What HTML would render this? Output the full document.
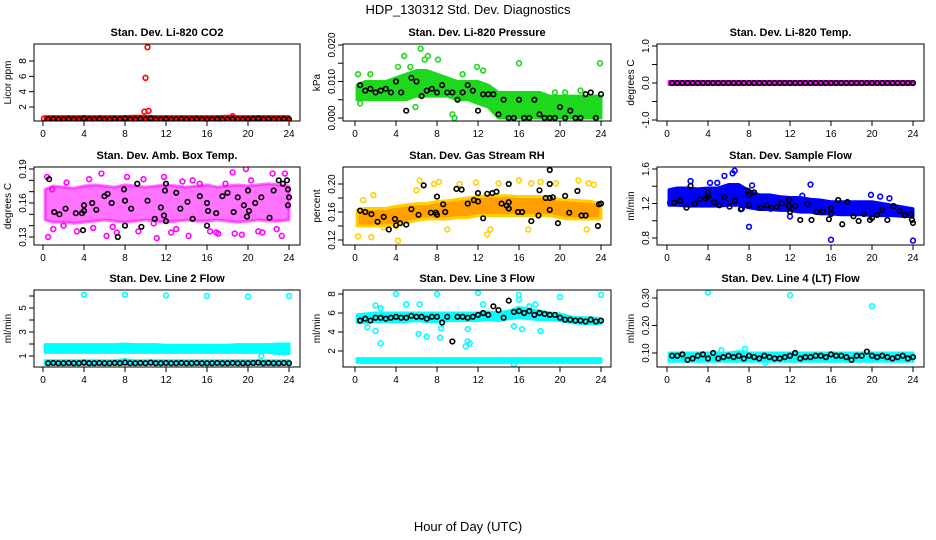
<!DOCTYPE html>
<html><head><meta charset="utf-8"><title>HDP_130312 Std. Dev. Diagnostics</title>
<style>
html,body{margin:0;padding:0;background:#fff;}
svg{display:block;font-family:"Liberation Sans",Arial,sans-serif;}
</style></head>
<body>
<svg id="chart" width="936" height="540" viewBox="0 0 936 540">
<text x="468" y="14" text-anchor="middle" font-size="13">HDP_130312  Std. Dev. Diagnostics</text>
<text x="468" y="531" text-anchor="middle" font-size="13">Hour of Day (UTC)</text>
</svg>
<script>
// ---- data ----
const hours = [0,1,2,3,4,5,6,7,8,9,10,11,12,13,14,15,16,17,18,19,20,21,22,23,24];
const xTicks = [0,4,8,12,16,20,24];
// P1 CO2
const co2Lo = [0.3,0.3,0.3,0.3,0.3,0.3,0.3,0.3,0.3,0.3,0.3,0.3,0.3,0.3,0.3,0.3,0.3,0.3,0.3,0.3,0.3,0.3,0.3,0.3,0.3];
const co2Hi = [0.75,0.75,0.75,0.75,0.75,0.75,0.75,0.75,0.75,0.8,0.8,0.75,0.75,0.75,0.75,0.75,0.75,0.75,0.8,0.75,0.75,0.75,0.75,0.75,0.75];
const co2OutX = [9.9,10.3,10.0,10.2,18.5,0.1];
const co2OutY = [1.4,1.5,5.8,9.8,0.8,0.5];
const co2Blk = [0.4,0.45,0.4,0.4,0.45,0.4,0.4,0.5,0.4,0.4,0.45,0.4,0.4,0.45,0.4,0.5,0.4,0.4,0.45,0.4,0.5,0.4,0.4,0.45,0.4,0.4,0.45,0.4,0.4,0.45,0.4,0.4,0.4,0.45,0.4,0.4,0.45,0.4,0.4,0.4,0.45,0.5,0.4,0.45,0.4,0.4,0.45,0.4];
// P2 Pressure
const prsLo = [0.005,0.005,0.005,0.005,0.005,0.005,0.006,0.006,0.006,0.006,0.005,0.005,0.004,0.003,0.0,0.0,0.0,0.0,0.0,0.0,0.0,0.0,0.0,0.0,0.0];
const prsHi = [0.009,0.010,0.010,0.010,0.011,0.012,0.013,0.013,0.012,0.011,0.010,0.010,0.010,0.009,0.007,0.007,0.007,0.007,0.007,0.006,0.006,0.006,0.006,0.006,0.006];
const prsOutX = [4.8,5.4,6.4,7.1,8.1,11.9,16,23.9,9.5,5.9,19.5,20.5,22,4.2,6.8,9.7,10.5,12.5,0.3,0.5,1.5];
const prsOutY = [0.017,0.014,0.019,0.017,0.016,0.014,0.015,0.015,0.001,0.003,0.007,0.007,0.0075,0.014,0.016,0.0,0.012,0.013,0.012,0.004,0.012];
const prsBlk = [0.009,0.0075,0.008,0.007,0.0075,0.008,0.007,0.010,0.007,0.002,0.011,0.010,0.006,0.0075,0.008,0.007,0.009,0.007,0.007,0.005,0.007,0.009,0.0075,0.002,0.0065,0.0065,0.0065,0.001,0.005,0.0,0.0,0.005,0.0,0.0,0.005,0.001,0.0,0.0,0.0,0.003,0.0,0.002,0.0,0.0,0.0065,0.007,0.0,0.0065];
// P3 Temp
const tmpLo = [-0.04,-0.04,-0.04,-0.04,-0.04,-0.04,-0.04,-0.04,-0.04,-0.04,-0.04,-0.04,-0.04,-0.04,-0.04,-0.04,-0.04,-0.04,-0.04,-0.04,-0.04,-0.04,-0.04,-0.04,-0.04];
const tmpHi = [0.04,0.04,0.04,0.04,0.04,0.04,0.04,0.04,0.04,0.04,0.04,0.04,0.04,0.04,0.04,0.04,0.04,0.04,0.04,0.04,0.04,0.04,0.04,0.04,0.04];
const tmpBlk = [0,0,0,0,0,0,0,0,0,0,0,0,0,0,0,0,0,0,0,0,0,0,0,0,0,0,0,0,0,0,0,0,0,0,0,0,0,0,0,0,0,0,0,0,0,0,0,0];
// P4 Amb box temp
const ambLo = [0.145,0.143,0.143,0.142,0.143,0.144,0.145,0.144,0.143,0.144,0.145,0.144,0.143,0.144,0.145,0.144,0.144,0.145,0.144,0.143,0.144,0.145,0.144,0.144,0.145];
const ambHi = [0.172,0.175,0.174,0.173,0.175,0.176,0.175,0.174,0.176,0.175,0.174,0.175,0.176,0.175,0.174,0.175,0.176,0.174,0.175,0.176,0.175,0.176,0.177,0.176,0.175];
const ambOutX = [0.4,0.5,2.3,1.0,3.3,5.7,6.2,7.2,8.2,9.3,10.8,11.1,11.8,12.5,13.6,14.2,14.6,15.3,16.3,17.1,18.5,18.7,19.4,19.8,20.3,21.4,22.4,22.8,23.3,23.6,4.5,2.0,6.8,9.8,13.0,17.8,21.0,0.9,4.9,16.9];
const ambOutY = [0.183,0.130,0.178,0.137,0.135,0.186,0.131,0.134,0.183,0.135,0.142,0.129,0.183,0.134,0.179,0.131,0.180,0.177,0.135,0.133,0.187,0.133,0.132,0.190,0.180,0.134,0.186,0.137,0.131,0.186,0.181,0.140,0.139,0.181,0.137,0.177,0.135,0.172,0.138,0.134];
const ambBlkX = [0.6,1.1,1.6,2.2,3.2,3.8,3.9,4,4,4.8,5.2,6,6.3,6.7,7.3,7.9,8,8,8.6,9.2,9.6,10.2,10.9,11.5,11.8,11.9,12,12,13,13.4,14.1,14.6,15.3,16,16.1,16,16.9,17.5,18,18.6,19,19.6,19.9,20,20.1,20.7,21.3,22.1,22.5,23,23.4,23.8,23.9,24,23.9];
const ambBlkY = [0.181,0.152,0.150,0.155,0.151,0.151,0.136,0.158,0.153,0.160,0.154,0.166,0.168,0.160,0.130,0.172,0.162,0.140,0.155,0.177,0.139,0.162,0.146,0.156,0.149,0.171,0.177,0.144,0.169,0.155,0.161,0.146,0.166,0.160,0.153,0.140,0.151,0.166,0.169,0.152,0.165,0.158,0.148,0.171,0.153,0.160,0.165,0.147,0.171,0.180,0.177,0.180,0.172,0.165,0.158];
// P5 RH
const rhLo = [0.14,0.14,0.14,0.14,0.142,0.145,0.148,0.15,0.15,0.15,0.152,0.152,0.155,0.155,0.155,0.155,0.155,0.155,0.155,0.155,0.152,0.15,0.15,0.15,0.15];
const rhHi = [0.162,0.165,0.165,0.165,0.168,0.17,0.172,0.172,0.175,0.176,0.178,0.18,0.182,0.183,0.183,0.183,0.182,0.182,0.182,0.18,0.178,0.177,0.176,0.175,0.172];
const rhOutX = [0.3,1.8,2.8,4.2,6.3,7.7,8.2,9.0,10.2,11.8,13.2,14.0,16.0,17.2,18.1,19.6,21.8,22.6,23.3,0.8,1.6,4.0,6.0,12.9,16.9,22.8];
const rhOutY = [0.125,0.184,0.138,0.119,0.205,0.200,0.203,0.135,0.200,0.202,0.135,0.201,0.205,0.201,0.203,0.201,0.205,0.135,0.199,0.177,0.124,0.140,0.191,0.128,0.135,0.201];
const rhBlkX = [0.5,1,1.6,2.2,2.8,3.3,3.9,4,4.4,5,5.5,6.2,6.7,7.4,7.9,8,8,8.6,8.8,9.9,10.4,11,11.6,12,12,12.5,12.9,13.4,13.8,14.3,14.8,15,15,15,15.9,16.3,17.2,17.9,18,18.6,19,19,19,19,19.3,19.8,20.5,20.9,21.7,22.1,22.5,23.7,23.8,24];
const rhBlkY = [0.162,0.160,0.157,0.146,0.153,0.135,0.150,0.141,0.144,0.142,0.164,0.156,0.198,0.159,0.159,0.156,0.182,0.171,0.160,0.193,0.192,0.172,0.177,0.175,0.187,0.151,0.186,0.187,0.189,0.172,0.169,0.200,0.174,0.165,0.160,0.160,0.147,0.155,0.191,0.180,0.180,0.163,0.200,0.220,0.181,0.144,0.183,0.159,0.190,0.155,0.155,0.140,0.171,0.172];
// P6 Sample flow
const sfLo = [1.18,1.18,1.17,1.17,1.17,1.17,1.18,1.18,1.15,1.13,1.13,1.12,1.12,1.1,1.1,1.08,1.08,1.07,1.07,1.07,1.06,1.06,1.06,1.05,1.05];
const sfHi = [1.36,1.38,1.38,1.37,1.38,1.38,1.42,1.42,1.35,1.3,1.3,1.28,1.27,1.27,1.25,1.24,1.22,1.22,1.22,1.22,1.22,1.2,1.18,1.16,1.14];
const sfOutX = [6.6,6.4,5.6,8.0,16.0,24.0,14.0,2.3,4.2,4.9,8.3,7.3,10.1,12.0,13.2,19.9,20.8,21.7,0.3];
const sfOutY = [1.58,1.55,1.52,0.93,0.78,0.77,1.42,1.46,1.44,1.44,1.41,1.14,1.14,1.05,1.29,1.30,1.28,1.26,1.21];
const sfBlkX = [0.7,1.3,1.9,2.3,2.7,3.2,3.8,4,4,4.6,5.1,5.6,6.1,6.6,7.2,7.9,8,8,8.5,9.1,9.7,10.2,10.7,11.2,11.9,11.9,12,12.5,13,13.7,14.1,14.6,15.2,15.8,16,16,16.7,17.1,17.6,18.2,18.7,19.2,19.8,20,20.5,21,21.5,22.1,22.7,23.2,23.8,23.9,24];
const sfBlkY = [1.209,1.233,1.151,1.403,1.198,1.248,1.260,1.325,1.279,1.214,1.179,1.272,1.163,1.229,1.133,1.348,1.299,1.179,1.330,1.151,1.179,1.151,1.163,1.202,1.241,1.171,1.105,1.171,1.009,1.198,1.009,1.101,1.105,1.017,1.144,1.078,1.241,0.959,1.217,1.052,0.997,1.078,1.009,1.032,1.067,1.125,1.009,1.171,1.113,1.063,1.078,1.009,0.974];
// P7 Line 2 flow
const l2Lo = [1.3,1.3,1.3,1.3,1.3,1.3,1.3,1.3,1.3,1.3,1.3,1.3,1.3,1.3,1.3,1.3,1.3,1.3,1.3,1.3,1.3,1.3,1.3,1.2,1.2];
const l2Hi = [1.95,1.95,1.95,1.95,1.95,1.95,1.95,1.95,2.0,1.95,1.95,1.95,1.9,1.9,1.9,1.9,1.9,1.9,1.9,1.95,1.95,1.95,1.95,2.0,2.0];
const l2Lo2 = [0.3,0.3,0.3,0.3,0.3,0.3,0.3,0.3,0.3,0.3,0.3,0.3,0.3,0.3,0.3,0.3,0.3,0.3,0.3,0.3,0.3,0.3,0.3,0.3,0.3];
const l2Hi2 = [0.6,0.6,0.6,0.6,0.6,0.6,0.6,0.6,0.7,0.6,0.6,0.6,0.6,0.6,0.6,0.6,0.6,0.6,0.6,0.6,0.6,0.6,0.6,0.6,0.6];
const l2OutX = [4,8,12,16,20,24,21.3];
const l2OutY = [6.1,6.1,6.05,6.0,5.95,6.0,1.0];
const l2Blk = [0.4,0.42,0.4,0.4,0.42,0.4,0.4,0.45,0.4,0.4,0.42,0.4,0.4,0.42,0.4,0.45,0.4,0.4,0.42,0.4,0.45,0.4,0.4,0.42,0.4,0.4,0.42,0.4,0.4,0.42,0.4,0.4,0.4,0.42,0.4,0.4,0.42,0.4,0.4,0.4,0.42,0.45,0.4,0.42,0.4,0.4,0.42,0.4];
// P8 Line 3 flow
const l3Lo = [5.0,5.0,5.1,5.1,5.1,5.1,5.2,5.1,5.1,5.2,5.2,5.2,5.2,5.3,5.2,5.4,5.5,5.4,5.3,5.3,5.2,5.0,4.9,4.9,4.9];
const l3Hi = [5.8,5.9,6.0,6.0,6.0,6.0,6.0,6.0,6.0,6.0,6.0,6.0,6.0,6.1,6.0,6.2,6.6,6.4,6.2,6.0,5.9,5.6,5.5,5.5,5.4];
const l3Lo2 = [0.8,0.8,0.8,0.8,0.8,0.8,0.8,0.8,0.8,0.8,0.8,0.8,0.8,0.8,0.8,0.8,0.8,0.8,0.8,0.8,0.8,0.8,0.8,0.8,0.8];
const l3Hi2 = [1.2,1.2,1.2,1.2,1.2,1.2,1.2,1.2,1.2,1.2,1.2,1.2,1.2,1.2,1.2,1.2,1.2,1.2,1.2,1.2,1.2,1.2,1.2,1.2,1.2];
const l3OutX = [4,8,12,16,20,24,2.5,10.8,11.0,11.2,2.0,1.2,6.2,7.0,8.3,8.4,11.0,15.5,16.3,18.1,2.0,2.5,5.0,6.3,12.5,16.0,17.0,17.6,15.5];
const l3OutY = [8.0,8.0,8.1,7.9,7.7,7.9,2.8,2.5,3.0,2.8,4.1,4.5,3.8,3.5,3.4,4.4,4.3,4.6,4.3,4.1,6.8,6.5,6.9,6.9,6.9,7.4,6.7,6.9,0.6];
const l3Blk = [5.2,5.4,5.2,5.5,5.5,5.4,5.5,5.6,5.5,5.5,5.7,5.6,5.6,5.4,5.6,5.6,5.0,5.6,3.0,5.6,5.6,5.5,5.6,5.8,6.0,5.8,6.7,6.3,5.5,7.3,6.1,6.2,6.0,6.2,5.8,6.0,5.9,5.8,5.8,5.5,5.3,5.3,5.2,5.2,5.1,5.3,5.1,5.2];
// P9 Line 4 flow
const l4Lo = [0.07,0.07,0.07,0.07,0.07,0.07,0.07,0.07,0.07,0.07,0.07,0.07,0.07,0.07,0.07,0.07,0.07,0.07,0.07,0.07,0.07,0.07,0.07,0.07,0.07];
const l4Hi = [0.1,0.1,0.1,0.1,0.1,0.1,0.1,0.105,0.1,0.1,0.1,0.1,0.1,0.1,0.1,0.1,0.1,0.1,0.1,0.1,0.1,0.1,0.1,0.1,0.1];
const l4OutX = [4,12,20,7.6,5.3,9.6];
const l4OutY = [0.32,0.31,0.27,0.115,0.11,0.065];
const l4Blk = [0.09,0.09,0.095,0.075,0.08,0.09,0.095,0.08,0.1,0.08,0.085,0.09,0.085,0.09,0.08,0.09,0.085,0.08,0.09,0.085,0.08,0.08,0.085,0.09,0.1,0.08,0.085,0.085,0.09,0.09,0.085,0.095,0.09,0.09,0.085,0.075,0.09,0.09,0.105,0.09,0.085,0.09,0.085,0.08,0.085,0.09,0.08,0.085];

// ---- layout (not data) ----
const cols = [{l:34,r:300,x0:43},{l:343,r:611,x0:355},{l:657,r:924,x0:667}];
const rows = [{t:44,b:121},{t:167,b:245},{t:290,b:367}];
const halfX = []; for (let i=0;i<48;i++) halfX.push(0.5*(i+1));

const panels = [
 {key:'co2',c:0,r:0,title:'Stan. Dev. Li-820 CO2',ylab:'Licor ppm',a:[2,107,8,61],ticks:[2,4,6,8],labels:['2','4','6','8'],color:'#ff0000',bands:[[co2Lo,co2Hi]],ox:co2OutX,oy:co2OutY,bx:halfX,by:co2Blk},
 {key:'pressure',c:1,r:0,title:'Stan. Dev. Li-820 Pressure',ylab:'kPa',a:[0,118,0.02,45],ticks:[0,0.005,0.01,0.015,0.02],labels:['0.000','','0.010','','0.020'],color:'#1ed81e',bands:[[prsLo,prsHi]],ox:prsOutX,oy:prsOutY,bx:halfX,by:prsBlk},
 {key:'temp',c:2,r:0,title:'Stan. Dev. Li-820 Temp.',ylab:'degrees C',a:[-1,120,1,46],ticks:[-1,-0.5,0,0.5,1],labels:['-1.0','','0.0','','1.0'],color:'#ff00ff',bands:[[tmpLo,tmpHi]],ox:[],oy:[],bx:halfX,by:tmpBlk},
 {key:'ambbox',c:0,r:1,title:'Stan. Dev. Amb. Box Temp.',ylab:'degrees C',a:[0.13,237,0.19,169],ticks:[0.13,0.14,0.15,0.16,0.17,0.18,0.19],labels:['0.13','','','0.16','','','0.19'],color:'#ff00ff',bands:[[ambLo,ambHi]],bandOp:0.55,ox:ambOutX,oy:ambOutY,bx:ambBlkX,by:ambBlkY},
 {key:'rh',c:1,r:1,title:'Stan. Dev. Gas Stream RH',ylab:'percent',a:[0.12,240,0.20,184],ticks:[0.12,0.14,0.16,0.18,0.20],labels:['0.12','','0.16','','0.20'],color:'#ffa000',ocolor:'#ffd000',bands:[[rhLo,rhHi]],ox:rhOutX,oy:rhOutY,bx:rhBlkX,by:rhBlkY},
 {key:'sampleflow',c:2,r:1,title:'Stan. Dev. Sample Flow',ylab:'ml/min',a:[0.8,238,1.6,169],ticks:[0.8,1.0,1.2,1.4,1.6],labels:['0.8','','1.2','','1.6'],color:'#0000ff',bands:[[sfLo,sfHi]],ox:sfOutX,oy:sfOutY,bx:sfBlkX,by:sfBlkY},
 {key:'line2',c:0,r:2,title:'Stan. Dev. Line 2 Flow',ylab:'ml/min',a:[1,356,5,308],ticks:[1,2,3,4,5,6],labels:['1','','3','','5',''],color:'#00ffff',bands:[[l2Lo,l2Hi],[l2Lo2,l2Hi2]],ox:l2OutX,oy:l2OutY,bx:halfX,by:l2Blk},
 {key:'line3',c:1,r:2,title:'Stan. Dev. Line 3 Flow',ylab:'ml/min',a:[2,351,8,294],ticks:[2,4,6,8],labels:['2','4','6','8'],color:'#00ffff',bands:[[l3Lo,l3Hi],[l3Lo2,l3Hi2]],ox:l3OutX,oy:l3OutY,bx:halfX,by:l3Blk},
 {key:'line4',c:2,r:2,title:'Stan. Dev. Line 4 (LT) Flow',ylab:'ml/min',a:[0.10,353,0.30,298],ticks:[0.10,0.20,0.30],labels:['0.10','0.20','0.30'],color:'#00ffff',bands:[[l4Lo,l4Hi]],ox:l4OutX,oy:l4OutY,bx:halfX,by:l4Blk}
];

const NS='http://www.w3.org/2000/svg';
const svg=document.getElementById('chart');
function mk(tag,attrs,parent){const e=document.createElementNS(NS,tag);for(const k in attrs)e.setAttribute(k,attrs[k]);(parent||svg).appendChild(e);return e;}

panels.forEach(p=>{
  const C=cols[p.c],R=rows[p.r];
  const xs=v=>C.x0+v*(246/24);
  const ys=v=>p.a[1]+(v-p.a[0])*(p.a[3]-p.a[1])/(p.a[2]-p.a[0]);
  const g=mk('g',{});
  
  
  const clipId='clip-'+p.key;
  const cp=mk('clipPath',{id:clipId},g);
  mk('rect',{x:C.l,y:R.t,width:C.r-C.l,height:R.b-R.t},cp);
  const t=mk('text',{x:(C.l+C.r)/2,y:R.t-8,'text-anchor':'middle','font-size':'11','font-weight':'bold'},g);
  t.textContent=p.title;
  
  
  const yl=mk('text',{x:0,y:0,'text-anchor':'middle','font-size':'10',transform:`translate(${C.l-23},${(R.t+R.b)/2}) rotate(-90)`},g);
  yl.textContent=p.ylab;
  
  
  const plot=mk('g',{'clip-path':`url(#${clipId})`},g);
  
  
  p.bands.forEach((b,bi)=>{
    let pts=[];
    for(let i=0;i<hours.length;i++)pts.push(xs(Math.max(hours[i],0.2))+','+ys(b[1][i]));
    for(let i=hours.length-1;i>=0;i--)pts.push(xs(Math.max(hours[i],0.2))+','+ys(b[0][i]));
    const pg=mk('polygon',{points:pts.join(' '),fill:p.color,stroke:p.ocolor||p.color,'stroke-width':'3','stroke-linejoin':'round','fill-opacity':p.bandOp||1,'stroke-opacity':p.bandOp||1},plot);
    
    
  });
  for(let i=0;i<p.ox.length;i++){
    const c=mk('circle',{cx:xs(p.ox[i]),cy:ys(p.oy[i]),r:2.4,fill:'none',stroke:p.ocolor||p.color,'stroke-width':'1.6'},plot);
    
    
  }
  const n=Math.min(p.bx.length,p.by.length);
  for(let i=0;i<n;i++){
    const c=mk('circle',{cx:xs(p.bx[i]),cy:ys(p.by[i]),r:2.3,fill:'none',stroke:'#000','stroke-width':'1.6'},plot);
    
    
  }
  const box=mk('rect',{x:C.l,y:R.t,width:C.r-C.l,height:R.b-R.t,fill:'none',stroke:'#000','stroke-width':'1'},g);
  
  
  mk('line',{x1:xs(0),x2:xs(24),y1:R.b,y2:R.b,stroke:'#000'},g);
  xTicks.forEach(v=>{
    mk('line',{x1:xs(v),x2:xs(v),y1:R.b,y2:R.b+5,stroke:'#000'},g);
    const tl=mk('text',{x:xs(v),y:R.b+16,'text-anchor':'middle','font-size':'10'},g);
    tl.textContent=v;
    
    
  });
  mk('line',{x1:C.l,x2:C.l,y1:ys(p.ticks[0]),y2:ys(p.ticks[p.ticks.length-1]),stroke:'#000'},g);
  p.ticks.forEach((v,i)=>{
    mk('line',{x1:C.l-5,x2:C.l,y1:ys(v),y2:ys(v),stroke:'#000'},g);
    if(p.labels[i]){
      const tl=mk('text',{x:0,y:0,'text-anchor':'middle','font-size':'10',transform:`translate(${C.l-8},${ys(v)}) rotate(-90)`},g);
      tl.textContent=p.labels[i];
      
      
    }
  });
});
</script>
</body></html>
